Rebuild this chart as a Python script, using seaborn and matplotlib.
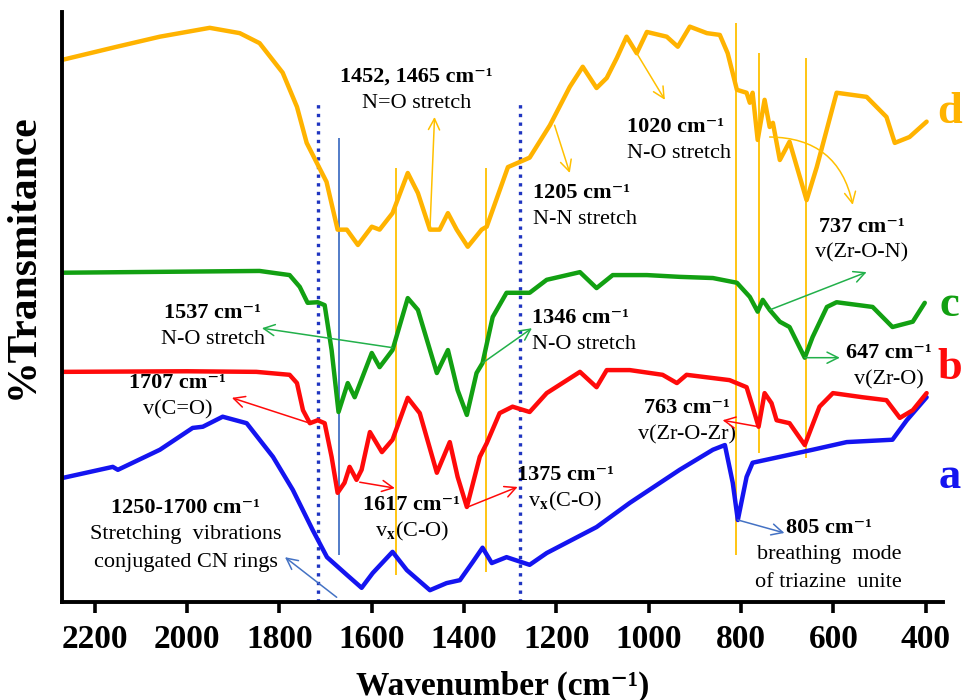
import pandas as pd
import numpy as np
import seaborn as sns
import matplotlib
import matplotlib.pyplot as plt

matplotlib.use('Agg')

# spectrum a (blue)
wn_a = [2271, 2161, 2150, 2059, 1988, 1966, 1923, 1871, 1814, 1771, 1728, 1697, 1654, 1622,
        1598, 1555, 1524, 1474, 1438, 1409, 1381, 1360, 1340, 1308, 1258, 1221, 1113, 1041,
        933, 861, 835, 818, 807, 788, 775, 716, 645, 571, 472, 441, 398]
t_a = [21.0, 22.9, 22.4, 25.8, 29.5, 29.7, 31.4, 30.3, 24.6, 19.0, 12.2, 7.6, 4.6, 2.4,
       4.9, 8.5, 5.4, 2.0, 3.2, 3.7, 6.8, 9.2, 6.6, 7.6, 6.3, 8.3, 12.7, 16.8,
       22.4, 25.8, 26.6, 20.2, 13.9, 21.2, 23.6, 24.6, 25.8, 27.1, 27.5, 30.8, 34.7]

# spectrum b (red)
wn_b = [2271, 2000, 1850, 1778, 1762, 1749, 1734, 1717, 1702, 1687, 1674, 1659, 1648, 1633,
        1622, 1604, 1578, 1555, 1522, 1496, 1459, 1431, 1414, 1394, 1366, 1351, 1323, 1295,
        1258, 1221, 1149, 1113, 1091, 1041, 970, 939, 918, 825, 788, 775, 762, 749, 734,
        723, 695, 662, 630, 601, 537, 485, 456, 428, 398]
t_b = [39.0, 39.1, 39.0, 38.5, 37.1, 32.5, 30.3, 30.8, 30.3, 24.6, 18.5, 20.2, 22.9, 20.7,
       22.4, 28.8, 25.4, 27.5, 34.6, 32.0, 21.9, 27.1, 21.2, 16.1, 24.6, 26.9, 32.0, 33.1,
       32.2, 35.4, 39.0, 36.4, 39.3, 39.3, 38.5, 37.1, 38.5, 37.6, 36.4, 33.1, 29.7, 35.4, 33.7,
       30.8, 30.3, 26.6, 33.1, 35.4, 34.7, 34.2, 31.2, 32.5, 35.4]

# spectrum c (green)
wn_c = [2271, 1843, 1778, 1756, 1739, 1717, 1702, 1687, 1672, 1652, 1637, 1600, 1583, 1555,
        1522, 1500, 1459, 1435, 1414, 1394, 1373, 1360, 1338, 1308, 1258, 1221, 1149, 1113,
        1078, 1004, 933, 861, 809, 781, 764, 753, 738, 716, 695, 662, 645, 614, 593, 515,
        472, 428, 402]
t_c = [55.8, 56.1, 55.4, 53.4, 50.7, 50.8, 50.3, 42.7, 32.2, 37.1, 34.7, 42.2, 39.8, 42.7,
       51.5, 49.5, 38.8, 42.7, 35.9, 31.7, 38.8, 40.5, 48.3, 52.4, 52.4, 54.6, 55.9, 53.2,
       55.4, 55.4, 55.1, 54.9, 54.1, 51.7, 49.2, 51.2, 49.5, 47.5, 46.6, 41.4, 44.9, 50.0, 50.8, 50.0,
       46.6, 47.5, 50.7]

# spectrum d (orange)
wn_d = [2269, 2152, 2059, 1951, 1886, 1843, 1793, 1762, 1741, 1717, 1698, 1674, 1654, 1630,
        1600, 1583, 1555, 1522, 1500, 1474, 1453, 1435, 1416, 1392, 1362, 1351, 1305, 1258,
        1214, 1171, 1143, 1113, 1091, 1069, 1048, 1026, 1004, 961, 937, 911, 874, 846, 829,
        809, 788, 781, 775, 764, 749, 738, 731, 716, 695, 658, 636, 593, 528, 485, 467, 435, 398]
t_d = [91.9, 94.1, 95.8, 97.3, 96.4, 94.7, 89.7, 83.9, 77.8, 74.1, 71.2, 63.1, 63.1, 60.5,
       63.6, 63.1, 65.9, 72.7, 69.3, 63.1, 63.1, 65.9, 63.1, 60.2, 63.1, 63.6, 73.7, 75.3,
       80.8, 87.3, 90.7, 87.1, 88.8, 92.2, 95.8, 93.0, 96.6, 95.8, 94.1, 97.5, 96.4, 96.1, 93.0,
       86.8, 86.3, 84.6, 86.3, 78.3, 85.1, 80.5, 81.2, 74.9, 78.0, 68.1, 73.7, 86.3, 85.6, 82.2, 77.8, 78.8, 81.4]

# marker lines
dotted_wn = [1717, 1279]
yellow_wn = [1548, 1353, 812, 762, 660]
yellow_lo = [4.6, 5.1, 8.0, 25.3, 24.4]
yellow_hi = [73.6, 73.6, 98.1, 93.1, 92.2]

ticks = [2200, 2000, 1800, 1600, 1400, 1200, 1000, 800, 600, 400]

BLUE = '#1414f0'
RED = '#ff0a0a'
GREEN = '#12a012'
ORANGE = '#ffb300'
YEL = '#ffc000'
LBLUE = '#4472c4'
AGREEN = '#22b04a'

sns.set_style('white')
plt.rcParams['font.family'] = ['Liberation Serif', 'DejaVu Serif']
plt.rcParams['mathtext.fontset'] = 'stix'
plt.rcParams['text.color'] = 'black'
plt.rcParams['axes.labelcolor'] = 'black'
plt.rcParams['xtick.color'] = 'black'

SUP = '\u207b\u00b9'

fig = plt.figure(figsize=(9.63, 7), dpi=100)
ax = fig.add_axes([0.0644, 0.14, 0.9146, 0.843])

ax.vlines(dotted_wn, 0, 85.1, colors='#1f35c0', linestyles=(0, (1, 1.6)), lw=2.4)
ax.vlines(1672, 8.0, 78.6, colors=LBLUE, lw=1.3)
ax.vlines(yellow_wn, yellow_lo, yellow_hi, colors=YEL, lw=1.3)

for wn, t, c in [(wn_a, t_a, BLUE), (wn_b, t_b, RED), (wn_c, t_c, GREEN), (wn_d, t_d, ORANGE)]:
    sns.lineplot(x=wn, y=t, color=c, lw=3.2, sort=False, ax=ax,
                 solid_joinstyle='round', solid_capstyle='round')

def arrow(tail, head, c, rad=0.0):
    ax.annotate('', xy=head, xytext=tail,
                arrowprops=dict(arrowstyle='->', color=c, lw=1.1, shrinkA=0, shrinkB=0,
                                mutation_scale=20, connectionstyle='arc3,rad=%s' % rad))

def note(x, y, head, lines, ha='center'):
    ax.text(x, y, head + ' cm' + SUP, ha=ha, va='center', fontsize=16, fontweight='bold')
    dy = [4.5, 9.2]
    for i, ln in enumerate(lines):
        ax.text(x, y - dy[i], ln, ha=ha, va='center', fontsize=16)

note(1503, 89.0, '1452, 1465', ['N=O stretch'])
note(1046, 80.5, '1020', ['N-O stretch'], ha='left')
note(1251, 69.3, '1205', ['N-N stretch'], ha='left')
note(539, 63.6, '737', ['v(Zr-O-N)'])
note(1944, 49.0, '1537', ['N-O stretch'])
note(1252, 48.1, '1346', ['N-O stretch'], ha='left')
note(480, 42.2, '647', ['v(Zr-O)'])
note(2020, 37.1, '1707', ['v(C=O)'])
note(918, 32.9, '763', ['v(Zr-O-Zr)'])
note(1513, 16.4, '1617', [r'v$_{\mathbf{x}}$(C-O)'])
note(1180, 21.5, '1375', [r'v$_{\mathbf{x}}$(C-O)'])
note(2003, 15.9, '1250-1700', ['Stretching  vibrations', 'conjugated CN rings'])
note(610, 12.5, '805', ['breathing  mode', 'of triazine  unite'])

arrow((1474, 63.1), (1464, 82.2), YEL)
arrow((1026, 93.0), (965, 85.1), YEL)
arrow((1204, 80.8), (1171, 72.7), YEL)
arrow((738, 78.8), (558, 67.3), YEL, rad=-0.4)
arrow((1555, 43.1), (1838, 46.4), AGREEN)
arrow((1360, 40.5), (1253, 46.4), AGREEN)
arrow((738, 49.5), (528, 55.9), AGREEN)
arrow((662, 41.4), (586, 41.4), AGREEN)
arrow((1734, 30.3), (1903, 34.6), RED)
arrow((762, 29.7), (840, 30.8), RED)
arrow((1626, 20.3), (1550, 19.3), RED)
arrow((1392, 16.1), (1284, 19.5), RED)
arrow((1676, 0.8), (1788, 7.6), LBLUE)
arrow((807, 13.9), (706, 11.7), LBLUE)

for lab, y, c in [('d', 83.1, ORANGE), ('c', 50.3, GREEN), ('b', 39.7, RED), ('a', 21.2, BLUE)]:
    ax.text(348, y, lab, color=c, fontsize=32, fontweight='bold', ha='center', va='center', clip_on=False)

ax.set_xlim(2271, 363)
ax.set_ylim(0, 100)
ax.set_xticks(ticks)
ax.set_xticklabels([str(t) for t in ticks], fontsize=24, fontweight='bold')
ax.set_yticks([])
ax.tick_params(axis='x', direction='out', length=8, width=2.6, pad=8, bottom=True)
for s in ['top', 'right']:
    ax.spines[s].set_visible(False)
for s in ['left', 'bottom']:
    ax.spines[s].set_linewidth(2.8)
    ax.spines[s].set_color('black')
ax.set_xlabel('Wavenumber (cm' + SUP + ')', fontsize=24, fontweight='bold', labelpad=11)
ax.set_ylabel('%Transmitance', fontsize=30, fontweight='bold')
ax.yaxis.set_label_coords(-0.023, 0.586)

fig.savefig('out.png', dpi=100)
